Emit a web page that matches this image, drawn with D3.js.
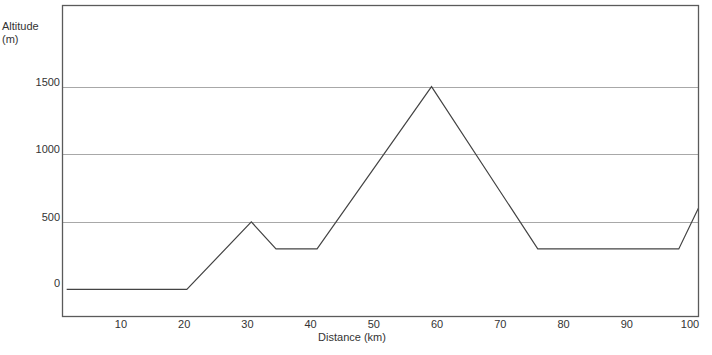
<!DOCTYPE html>
<html>
<head>
<meta charset="utf-8">
<script src="https://cdn.jsdelivr.net/npm/d3@7"></script>
<style>
  body { margin: 0; background: #fff; }
  text { font-family: "Liberation Sans", Arial, sans-serif; font-size: 11px; fill: #333; }
</style>
</head>
<body>
<div id="vis-holder"></div>
<script>
// Chart data
const distanceKm = [1.5, 20.5, 30.7, 34.6, 41.1, 59.2, 76.0, 98.3, 101.4];
const altitudeM  = [0, 0, 500, 300, 300, 1500, 300, 300, 600];
const xTicks = [10, 20, 30, 40, 50, 60, 70, 80, 90, 100];
const yTicks = [0, 500, 1000, 1500];
const gridValues = [500, 1000, 1500];

const width = 712;
const height = 355;
const margin = { top: 5.5, right: 13.5, bottom: 38.5, left: 62.5 };

const svg = d3.select("#vis-holder")
  .append("svg")
  .attr("width", width)
  .attr("height", height);

// Scales
const x = d3.scaleLinear()
  .domain([0.84, 101.42])
  .range([margin.left, width - margin.right]);

const y = d3.scaleLinear()
  .domain([-200, 2100])
  .range([height - margin.bottom, margin.top]);

// Gridlines
svg.append("g")
  .selectAll("line")
  .data(gridValues)
  .enter()
  .append("line")
    .attr("x1", margin.left)
    .attr("x2", width - margin.right)
    .attr("y1", (d) => Math.round(y(d)) + 0.5)
    .attr("y2", (d) => Math.round(y(d)) + 0.5)
    .attr("stroke", "#a8a8a8")
    .attr("stroke-width", 1);

// Clip for the profile line
svg.append("clipPath")
  .attr("id", "plot-clip")
  .append("rect")
    .attr("x", margin.left)
    .attr("y", margin.top)
    .attr("width", width - margin.right - margin.left)
    .attr("height", height - margin.bottom - margin.top);

// Altitude profile
const points = distanceKm.map((d, i) => [d, altitudeM[i]]);
const line = d3.line()
  .x((d) => x(d[0]))
  .y((d) => y(d[1]));

svg.append("path")
  .datum(points)
  .attr("clip-path", "url(#plot-clip)")
  .attr("fill", "none")
  .attr("stroke", "#444")
  .attr("stroke-width", 1.2)
  .attr("d", line);

// Frame
svg.append("rect")
  .attr("x", margin.left)
  .attr("y", margin.top)
  .attr("width", width - margin.right - margin.left)
  .attr("height", height - margin.bottom - margin.top)
  .attr("fill", "none")
  .attr("stroke", "#5a5a5a")
  .attr("stroke-width", 1.3);

// X axis labels
svg.append("g")
  .attr("transform", `translate(0,${height - margin.bottom})`)
  .call(d3.axisBottom(x).tickValues(xTicks).tickSize(0).tickPadding(4))
  .call((g) => g.select(".domain").remove())
  .call((g) => g.selectAll("text")
                .attr("font-family", null)
                .attr("font-size", null)
                .attr("dy", "0.71em"));

// Y axis labels
svg.append("g")
  .selectAll("text")
  .data(yTicks)
  .enter()
  .append("text")
    .attr("x", 60)
    .attr("y", (d) => y(d) - (d === 0 ? 2.5 : 1))
    .attr("text-anchor", "end")
    .text((d) => d);

// Axis titles
svg.append("text")
  .attr("x", 2)
  .attr("y", 30)
  .text("Altitude");
svg.append("text")
  .attr("x", 2)
  .attr("y", 43)
  .text("(m)");

svg.append("text")
  .attr("x", 352)
  .attr("y", 341)
  .attr("text-anchor", "middle")
  .text("Distance (km)");
</script>
</body>
</html>
